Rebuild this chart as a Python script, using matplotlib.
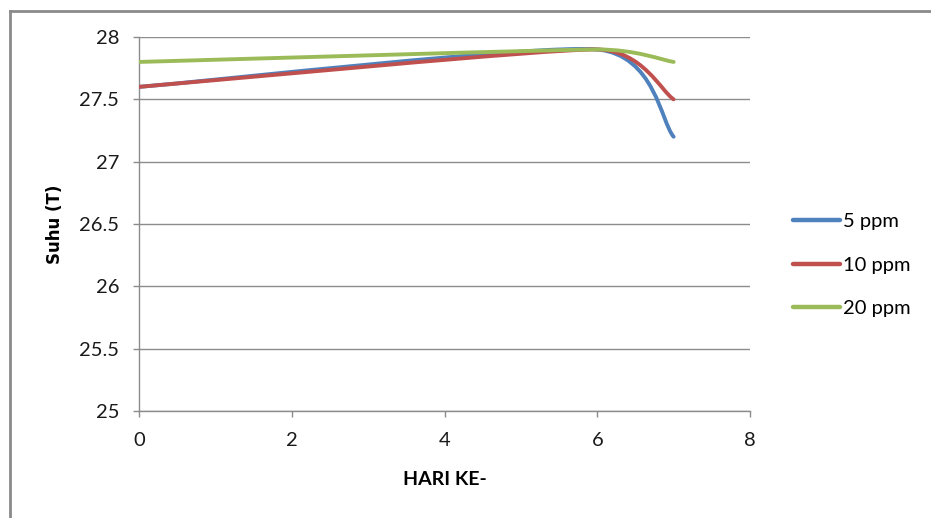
import numpy as np
import matplotlib
matplotlib.use('Agg')
import matplotlib.pyplot as plt
from matplotlib.path import Path
from matplotlib.patches import PathPatch
from matplotlib.lines import Line2D

# days of measurement and temperature per dose
hari = [0, 6, 7]
suhu_5 = [27.6, 27.9, 27.2]
suhu_10 = [27.6, 27.9, 27.5]
suhu_20 = [27.8, 27.9, 27.8]
labels = ['5 ppm', '10 ppm', '20 ppm']
colors = ['#4F81BD', '#C0504D', '#9BBB59']

plt.rcParams['font.family'] = ['Lato', 'DejaVu Sans']


def smooth_path(ax, x, y, t=1/6.):
    # spreadsheet style smoothed line: cubic bezier through every point,
    # control arms limited to half the neighbouring segment (screen space)
    p = np.column_stack([x, y]).astype(float)
    s = ax.transData.transform(p)
    n = len(p)
    dist = lambda a, b: np.hypot(*(s[a] - s[b]))
    arms = []
    for i in range(n):
        a = max(i - 1, 0)
        b = min(i + 1, n - 1)
        d_ab = dist(a, b)
        f = t
        if 0 < i < n - 1:
            d_prev, d_next = dist(a, i), dist(i, b)
            lim = min(d_prev, d_next) / 2
            if d_ab * t > lim:
                f = lim / d_ab
        arms.append((p[b] - p[a]) * f)
    verts = [p[0]]
    codes = [Path.MOVETO]
    for i in range(n - 1):
        verts += [p[i] + arms[i], p[i + 1] - arms[i + 1], p[i + 1]]
        codes += [Path.CURVE4] * 3
    return Path(verts, codes)


fig = plt.figure(figsize=(9.31, 5.18), dpi=100)
ax = fig.add_axes([139/931, 1 - 411/518, (750 - 139)/931, (411 - 37)/518])
ax.set_xlim(0, 8)
ax.set_ylim(25, 28)

for ys, lab, c in zip([suhu_5, suhu_10, suhu_20], labels, colors):
    ax.add_patch(PathPatch(smooth_path(ax, hari, ys), fill=False, edgecolor=c,
                           lw=2.8, capstyle='round', zorder=3))
    ax.plot([], [], color=c, lw=3.2, label=lab, solid_capstyle='round')

ax.set_xticks([0, 2, 4, 6, 8])
ax.set_yticks([25, 25.5, 26, 26.5, 27, 27.5, 28])
ax.set_yticklabels(['25', '25.5', '26', '26.5', '27', '27.5', '28'])
ax.grid(axis='y', color='#8c8c8c', lw=1)
ax.set_axisbelow(True)
for s in ['top', 'right']:
    ax.spines[s].set_visible(False)
for s in ['left', 'bottom']:
    ax.spines[s].set_color('#8c8c8c')
    ax.spines[s].set_linewidth(1)
ax.tick_params(direction='out', length=4.3, color='#8c8c8c', width=1,
               labelsize=14.5, labelcolor='#1a1a1a')
ax.tick_params(axis='y', pad=10)
ax.tick_params(axis='x', pad=11)

ax.set_xlabel('HARI KE-', fontsize=14, fontweight='bold', va='center')
ax.xaxis.set_label_coords(0.5, -0.184)
ax.set_ylabel('Suhu (T)', fontsize=12, fontweight='bold',
              family='DejaVu Sans', va='center')
ax.yaxis.set_label_coords(-0.138, 0.5)

ax.legend(loc='center left', bbox_to_anchor=(1.07, 0.39), frameon=False,
          fontsize=14.5, handlelength=2.35, handletextpad=0.15,
          labelspacing=1.3, borderpad=0, borderaxespad=0)

# outer chart frame
fig.add_artist(Line2D([10/931, 10/931], [0, 1 - 11/518], color='#8a8a8a',
                      lw=2, transform=fig.transFigure))
fig.add_artist(Line2D([10/931, 1], [1 - 11/518, 1 - 11/518], color='#8a8a8a',
                      lw=2, transform=fig.transFigure))

fig.savefig('out.png', dpi=100)
